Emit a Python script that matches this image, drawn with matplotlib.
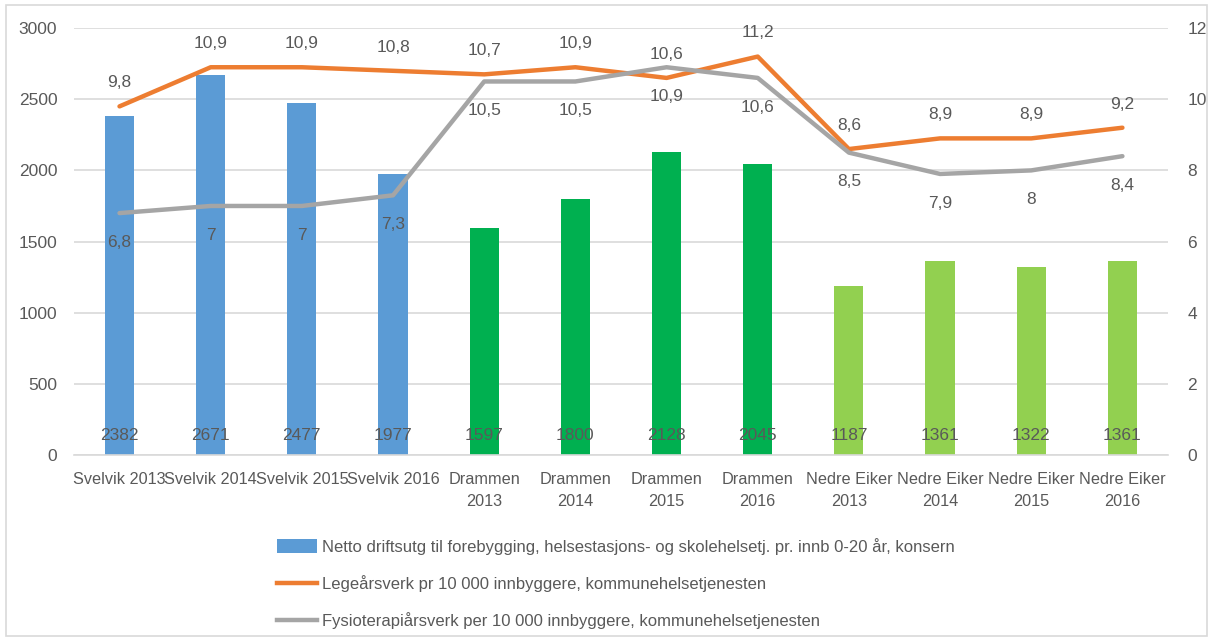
import numpy as np
import matplotlib
matplotlib.use("Agg")
import matplotlib.pyplot as plt
from matplotlib.patches import Patch, Rectangle
from matplotlib.lines import Line2D

# =========================================================
# DATA
# =========================================================
categories = [
    "Svelvik 2013", "Svelvik 2014", "Svelvik 2015", "Svelvik 2016",
    "Drammen\n2013", "Drammen\n2014", "Drammen\n2015", "Drammen\n2016",
    "Nedre Eiker\n2013", "Nedre Eiker\n2014", "Nedre Eiker\n2015", "Nedre Eiker\n2016",
]
netto_driftsutg = [2382, 2671, 2477, 1977, 1597, 1800, 2128, 2045, 1187, 1361, 1322, 1361]
lege_arsverk = [9.8, 10.9, 10.9, 10.8, 10.7, 10.9, 10.6, 11.2, 8.6, 8.9, 8.9, 9.2]
fysio_arsverk = [6.8, 7, 7, 7.3, 10.5, 10.5, 10.9, 10.6, 8.5, 7.9, 8, 8.4]

bar_colors = ["#5B9BD5"] * 4 + ["#00B050"] * 4 + ["#92D050"] * 4
ORANGE = "#ED7D31"
GREY = "#A5A5A5"
TEXT = "#595959"
GRID = "#D9D9D9"

legend_labels = [
    "Netto driftsutg til forebygging, helsestasjons- og skolehelsetj. pr. innb 0-20 år, konsern",
    "Legeårsverk pr 10 000 innbyggere, kommunehelsetjenesten",
    "Fysioterapiårsverk per 10 000 innbyggere, kommunehelsetjenesten",
]

plt.rcParams["font.family"] = ["Liberation Sans", "DejaVu Sans"]


def fmt(v):
    return f"{v:g}".replace(".", ",")


# =========================================================
# FIGURE
# =========================================================
fig = plt.figure(figsize=(12.12, 6.39), dpi=100)
fig.patches.append(Rectangle((0.005, 0.004), 0.991, 0.988, transform=fig.transFigure,
                             fill=False, edgecolor=GRID, linewidth=1.2))

ax = fig.add_axes([0.061, 0.288, 0.9027, 0.668])
ax2 = ax.twinx()

x = np.arange(len(categories))
ax.bar(x, netto_driftsutg, width=0.32, color=bar_colors, zorder=2)
ax.set_ylim(0, 3000)
ax.set_yticks(np.arange(0, 3001, 500))
ax.set_xlim(-0.5, len(categories) - 0.5)
ax.set_xticks(x)
ax.set_xticklabels(categories, fontsize=11.7, color=TEXT, linespacing=1.6)
ax.yaxis.grid(True, color=GRID, linewidth=1.2)
ax.set_axisbelow(True)
for s in ["top", "left", "right"]:
    ax.spines[s].set_visible(False)
ax.spines["bottom"].set_color(GRID)
ax.spines["bottom"].set_linewidth(1.2)
ax.tick_params(axis="y", length=0, labelsize=12.5, labelcolor=TEXT, pad=12)
ax.tick_params(axis="x", length=0, labelcolor=TEXT, pad=12)

for xi, v in zip(x, netto_driftsutg):
    ax.annotate(str(v), (xi, 0), xytext=(0, 14), textcoords="offset points",
                ha="center", va="center", fontsize=12.5, color=TEXT, zorder=5)

# lines on secondary axis
ax2.plot(x, lege_arsverk, color=ORANGE, linewidth=3.2, solid_capstyle="round", zorder=3)
ax2.plot(x, fysio_arsverk, color=GREY, linewidth=3.2, solid_capstyle="round", zorder=3)
ax2.set_ylim(0, 12)
ax2.set_yticks(np.arange(0, 13, 2))
for s in ["top", "left", "right", "bottom"]:
    ax2.spines[s].set_visible(False)
ax2.tick_params(axis="y", length=0, labelsize=12.5, labelcolor=TEXT, pad=14)

for xi, v in zip(x, lege_arsverk):
    ax2.annotate(fmt(v), (xi, v), xytext=(0, 17), textcoords="offset points",
                 ha="center", va="center", fontsize=12.5, color=TEXT)
for xi, v in zip(x, fysio_arsverk):
    ax2.annotate(fmt(v), (xi, v), xytext=(0, -21), textcoords="offset points",
                 ha="center", va="center", fontsize=12.5, color=TEXT)

# legend
handles = [
    Patch(facecolor="#5B9BD5", edgecolor="none"),
    Line2D([0], [0], color=ORANGE, linewidth=3.2),
    Line2D([0], [0], color=GREY, linewidth=3.2),
]
fig.legend(handles, legend_labels, loc="upper left", bbox_to_anchor=(0.222, 0.171),
           frameon=False, fontsize=12, labelcolor=TEXT, handlelength=2.4,
           handleheight=0.9, handletextpad=0.3, labelspacing=1.2, borderpad=0)

fig.savefig("out.png", dpi=100)
